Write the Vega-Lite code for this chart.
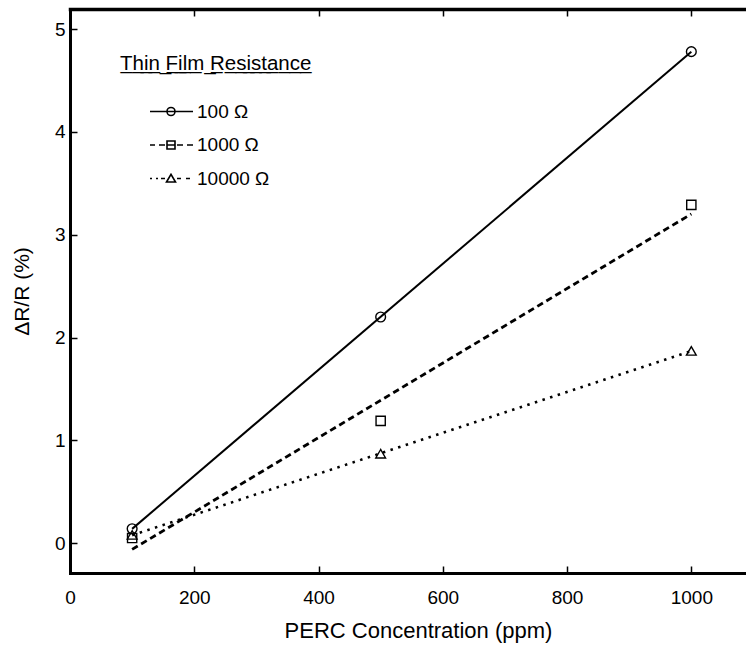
{
  "$schema": "https://vega.github.io/schema/vega-lite/v6.json",
  "width": 676,
  "height": 564,
  "autosize": {"type": "none"},
  "padding": {"left": 70, "top": 9, "right": 0, "bottom": 72},
  "background": "white",
  "config": {"view": {"stroke": null}, "font": "Liberation Sans"},
  "data": {
    "values": [
      {"series": "100 Ω", "x": 100, "y": 0.14},
      {"series": "100 Ω", "x": 500, "y": 2.2},
      {"series": "100 Ω", "x": 1000, "y": 4.78},
      {"series": "1000 Ω", "x": 100, "y": 0.05},
      {"series": "1000 Ω", "x": 500, "y": 1.19},
      {"series": "1000 Ω", "x": 1000, "y": 3.29},
      {"series": "10000 Ω", "x": 100, "y": 0.08},
      {"series": "10000 Ω", "x": 500, "y": 0.87},
      {"series": "10000 Ω", "x": 1000, "y": 1.87}
    ]
  },
  "layer": [
    {
      "transform": [{"filter": "datum.series === '100 Ω'"}, {"regression": "y", "on": "x"}],
      "mark": {"type": "line", "color": "black", "strokeCap": "butt", "strokeWidth": 2},
      "encoding": {
        "x": {
          "field": "x", "type": "quantitative",
          "scale": {"domain": [0, 1088], "nice": false, "zero": false},
          "axis": {
            "orient": "bottom", "values": [0, 200, 400, 600, 800, 1000], "format": "d",
            "domainColor": "black", "domainWidth": 3, "domainCap": "square",
            "tickColor": "black", "tickWidth": 1.5, "tickSize": -7,
            "labelPadding": 22, "labelFontSize": 19, "labelColor": "black", "labelFlush": false,
            "title": "PERC Concentration (ppm)", "titleFontSize": 22, "titleFontWeight": "normal",
            "titleColor": "black", "titleX": 348, "titleY": 64, "titleBaseline": "alphabetic", "grid": false
          }
        },
        "y": {
          "field": "y", "type": "quantitative",
          "scale": {"domain": [-0.29, 5.195], "nice": false, "zero": false},
          "axis": {
            "orient": "left", "values": [0, 1, 2, 3, 4, 5],
            "domainColor": "black", "domainWidth": 3, "domainCap": "square",
            "tickColor": "black", "tickWidth": 1.5, "tickSize": -7,
            "labelPadding": 12, "labelFontSize": 19, "labelColor": "black", "labelFlush": false,
            "title": "ΔR/R (%)", "titleFontSize": 21, "titleFontWeight": "normal",
            "titleColor": "black", "titleX": -48, "titleBaseline": "middle", "grid": false
          }
        }
      }
    },
    {
      "transform": [{"filter": "datum.series === '1000 Ω'"}, {"regression": "y", "on": "x"}],
      "mark": {"type": "line", "color": "black", "strokeCap": "butt", "strokeWidth": 2.8, "strokeDash": [6.5, 4]},
      "encoding": {
        "x": {"field": "x", "type": "quantitative", "axis": null},
        "y": {"field": "y", "type": "quantitative", "axis": null}
      }
    },
    {
      "transform": [{"filter": "datum.series === '10000 Ω'"}, {"regression": "y", "on": "x"}],
      "mark": {"type": "line", "color": "black", "strokeCap": "butt", "strokeWidth": 2.6, "strokeDash": [2.5, 5.5]},
      "encoding": {
        "x": {"field": "x", "type": "quantitative", "axis": null},
        "y": {"field": "y", "type": "quantitative", "axis": null}
      }
    },
    {
      "transform": [{"filter": "datum.series === '100 Ω'"}],
      "mark": {"type": "point", "shape": "circle", "filled": false, "color": "black", "strokeWidth": 1.4, "size": 95, "opacity": 1},
      "encoding": {
        "x": {
          "field": "x", "type": "quantitative",
          "axis": {
            "orient": "top", "values": [0, 200, 400, 600, 800, 1000], "labels": false, "title": null,
            "domainColor": "black", "domainWidth": 3.5, "domainCap": "square",
            "tickColor": "black", "tickWidth": 1.5, "tickSize": -7, "grid": false
          }
        },
        "y": {"field": "y", "type": "quantitative", "axis": null}
      }
    },
    {
      "transform": [{"filter": "datum.series === '1000 Ω'"}],
      "mark": {"type": "point", "shape": "square", "filled": false, "color": "black", "strokeWidth": 1.4, "size": 85, "opacity": 1},
      "encoding": {
        "x": {"field": "x", "type": "quantitative", "axis": null},
        "y": {"field": "y", "type": "quantitative", "axis": null}
      }
    },
    {
      "transform": [{"filter": "datum.series === '10000 Ω'"}],
      "mark": {"type": "point", "shape": "triangle-up", "filled": false, "color": "black", "strokeWidth": 1.4, "size": 95, "opacity": 1},
      "encoding": {
        "x": {"field": "x", "type": "quantitative", "axis": null},
        "y": {"field": "y", "type": "quantitative", "axis": null}
      }
    },
    {
      "mark": {"type": "point", "filled": false, "color": "black", "strokeWidth": 1.6, "size": 0, "opacity": 1},
      "encoding": {
        "x": {"field": "x", "type": "quantitative", "axis": null},
        "y": {"field": "y", "type": "quantitative", "axis": null},
        "shape": {
          "field": "series", "type": "nominal",
          "scale": {
            "domain": ["100 Ω", "1000 Ω", "10000 Ω"],
            "range": [
              "M1.9,0H6.2M3.6,0A0.4,0.4,0,1,1,4.4,0A0.4,0.4,0,1,1,3.6,0Z",
              "M1.9,0H2.4M2.8,0H3.4M3.6,-0.4H4.4V0.4H3.6ZM3.6,0H4.4M4.6,0H5.2M5.6,0H6.2",
              "M1.9,0H2.1M2.5,0H2.7M3.0,0H3.4M3.55,0.35L4,-0.42L4.45,0.35ZM4.6,0H5.0M5.5,0H5.9"
            ]
          },
          "legend": {
            "orient": "none", "legendX": 50, "legendY": 45, "padding": 0,
            "title": "T̲h̲i̲n̲ ̲F̲i̲l̲m̲ ̲R̲e̲s̲i̲s̲t̲a̲n̲c̲e̲", "titleLimit": 400,
            "titleFontSize": 20.5, "titleFontWeight": "normal", "titleColor": "black", "titlePadding": 26,
            "labelFontSize": 19, "labelColor": "black", "labelOffset": 55,
            "symbolSize": 400, "symbolStrokeColor": "black", "symbolStrokeWidth": 1.6,
            "symbolFillColor": "transparent", "symbolOpacity": 1, "rowPadding": 12.5
          }
        }
      }
    }
  ],
  "resolve": {"axis": {"x": "independent", "y": "independent"}}
}
